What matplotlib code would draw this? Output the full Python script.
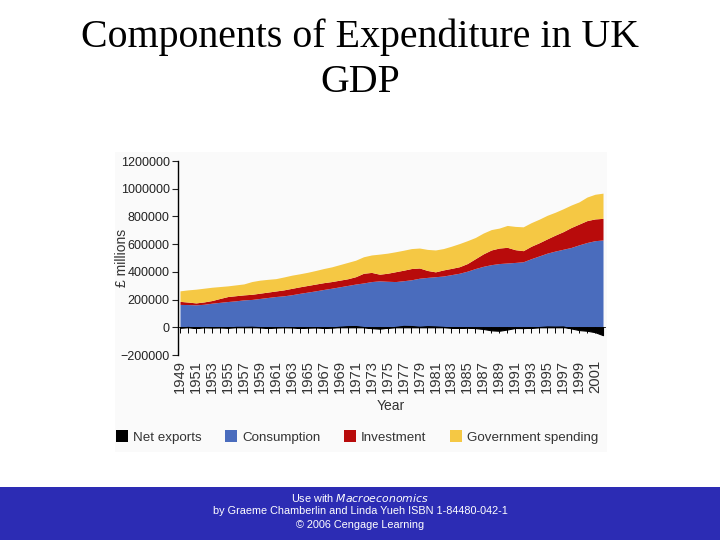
import numpy as np
import matplotlib
matplotlib.use("Agg")
import matplotlib.pyplot as plt
from matplotlib.patches import Rectangle

plt.rcParams["font.family"] = ["Liberation Sans", "DejaVu Sans"]

# UK GDP expenditure components, £ millions
years = list(range(1949, 2003))
consumption = [165, 164, 162, 166, 174, 180, 186, 191, 198, 201,
               208, 215, 222, 227, 235, 245, 254, 263, 273, 282,
               292, 302, 312, 320, 330, 335, 332, 330, 336, 343,
               354, 360, 365, 370, 380, 390, 405, 424, 440, 452,
               460, 464, 468, 473, 495, 515, 535, 550, 563, 576,
               595, 612, 625, 630]
investment = [22, 18, 14, 17, 19, 28, 36, 37, 36, 37,
              38, 39, 40, 43, 46, 47, 48, 49, 49, 48,
              48, 48, 53, 70, 66, 48, 58, 71, 76, 81,
              74, 50, 35, 44, 45, 47, 55, 71, 90, 106,
              112, 113, 92, 80, 90, 95, 103, 115, 127, 144,
              150, 158, 157, 156]
government = [76, 88, 99, 99, 96, 86, 77, 78, 79, 92,
              94, 92, 89, 93, 95, 94, 95, 98, 102, 106,
              112, 118, 119, 119, 126, 145, 145, 144, 144, 144,
              144, 152, 158, 154, 160, 167, 165, 153, 150, 147,
              144, 158, 168, 172, 170, 170, 170, 165, 165, 162,
              160, 170, 178, 182]
net_exports = [-2, 3, -5, 2, 0, 1, -2, 3, 3, 4,
               1, -4, 0, 2, 1, -4, -1, 1, -3, -1,
               4, 8, 9, 2, -6, -10, -3, 3, 10, 9,
               4, 8, 6, 3, -2, -4, -1, -6, -12, -22,
               -25, -16, -5, -6, -3, 2, 6, 5, 6, -8,
               -20, -25, -35, -57]

series_labels = ["Net exports", "Consumption", "Investment", "Government spending"]
colors = ["#000000", "#4a6cbd", "#b80b0b", "#f5c844"]
label_years = list(range(1949, 2002, 2))
y_ticks = list(range(-200000, 1200001, 200000))

yrs = np.array(years)
c = np.array(consumption) * 1000
i = c + np.array(investment) * 1000
g = i + np.array(government) * 1000
nx = np.array(net_exports) * 1000

fig = plt.figure(figsize=(7.2, 5.4), dpi=100)
fig.patch.set_facecolor("white")

# light panel behind the chart (pasted image look) and footer band
fig.patches.append(Rectangle((115 / 720, 1 - 452 / 540), 492 / 720, 300 / 540,
                             transform=fig.transFigure, facecolor="#fafafa",
                             edgecolor="none", zorder=-5))
fig.patches.append(Rectangle((0, 0), 1, 53 / 540, transform=fig.transFigure,
                             facecolor="#2c2cb4", edgecolor="none", zorder=-5))

# title
fig.text(0.5, 1 - 37 / 540, "Components of Expenditure in UK", ha="center", va="center",
         fontsize=28.7, family="Liberation Serif")
fig.text(0.5, 1 - 82 / 540, "GDP", ha="center", va="center",
         fontsize=28.7, family="Liberation Serif")

ax = fig.add_axes([178 / 720, 1 - 355 / 540, 427 / 720, 194 / 540])
ax.set_facecolor("none")
ax.fill_between(yrs, 0, c, color=colors[1], linewidth=0)
ax.fill_between(yrs, c, i, color=colors[2], linewidth=0)
ax.fill_between(yrs, i, g, color=colors[3], linewidth=0)
ax.fill_between(yrs, 0, nx, color=colors[0], linewidth=0.8, edgecolor=colors[0])

ax.set_xlim(1948.75, 2002.25)
ax.set_ylim(-200000, 1200000)
ax.set_yticks(y_ticks)
ax.set_yticklabels([str(v) if v >= 0 else "\u2212" + str(-v) for v in y_ticks])
ax.tick_params(axis="y", length=4, width=0.8, labelsize=9, colors="#222222", pad=2)

for s in ["top", "right"]:
    ax.spines[s].set_visible(False)
ax.spines["bottom"].set_position(("data", 0))
ax.spines["bottom"].set_linewidth(0.6)
ax.spines["left"].set_linewidth(1.0)

ax.set_xticks(years)
ax.tick_params(axis="x", length=4, width=0.7, labelbottom=False, direction="out")

sec = ax.secondary_xaxis(location=0)
sec.set_xticks(label_years)
sec.set_xticklabels([str(y) for y in label_years], rotation=90)
sec.tick_params(length=0, pad=3.5, labelsize=10.6, colors="#333333")
sec.spines["bottom"].set_visible(False)

ax.set_ylabel("£ millions", fontsize=10, color="#333333")
ax.yaxis.set_label_coords(-0.115, 0.5)
fig.text(391 / 720, 1 - 406 / 540, "Year", ha="center", va="center",
         fontsize=10, color="#333333")

handles = [Rectangle((0, 0), 1, 1, facecolor=col, edgecolor="none") for col in colors]
fig.legend(handles, series_labels, loc="center", bbox_to_anchor=(357 / 720, 1 - 437 / 540),
           ncol=4, frameon=False, fontsize=9.6, handlelength=0.9, handleheight=0.9,
           handletextpad=0.4, columnspacing=1.75, labelcolor="#333333")

fig.text(0.5, 1 - 497.5 / 540, "Use with $\\it{Macroeconomics}$", ha="center", va="center",
         fontsize=7.8, color="white")
fig.text(0.5, 1 - 511 / 540, "by Graeme Chamberlin and Linda Yueh ISBN 1-84480-042-1",
         ha="center", va="center", fontsize=7.8, color="white")
fig.text(0.5, 1 - 524.5 / 540, "\u00a9 2006 Cengage Learning", ha="center", va="center",
         fontsize=7.8, color="white")

fig.savefig("out.png", dpi=100)
